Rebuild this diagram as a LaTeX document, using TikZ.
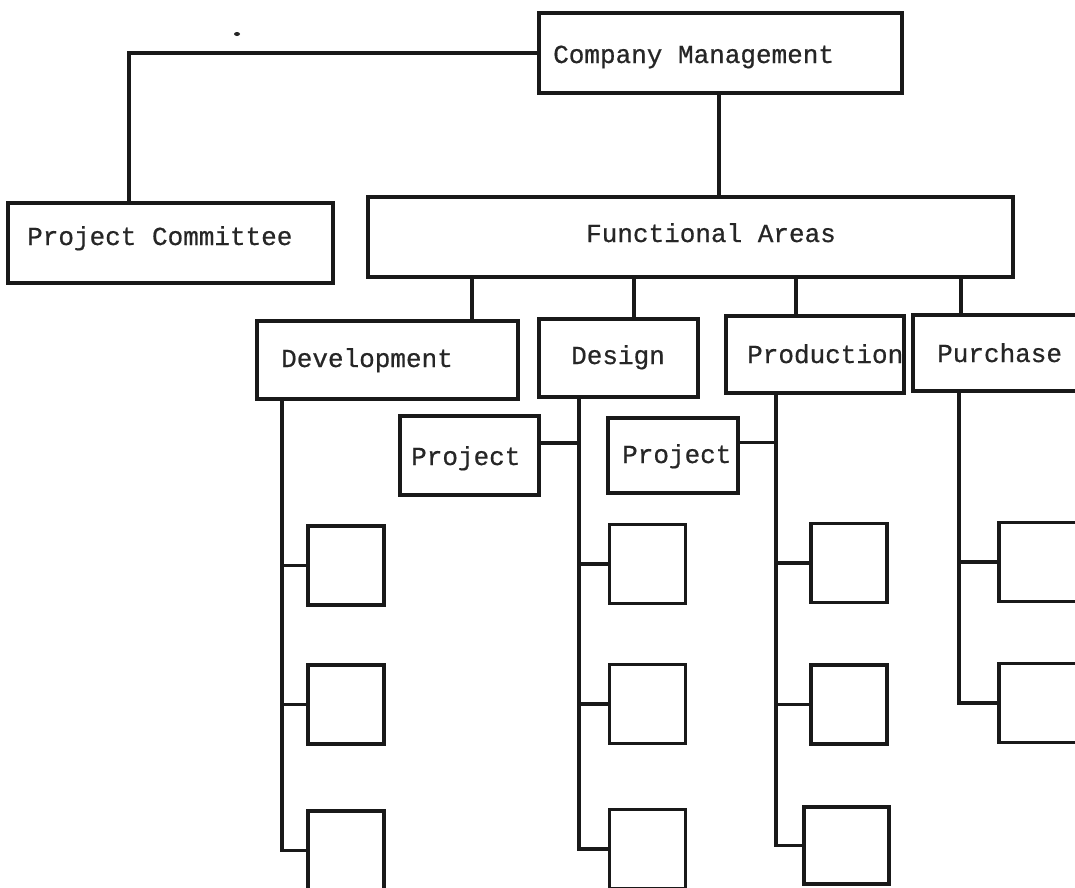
\documentclass[tikz,border=0pt]{standalone}
\usepackage{fontspec}
\setmonofont{Liberation Mono}[FakeBold=0.6]
\begin{document}
\begin{tikzpicture}[x=1pt,y=-1pt,
  box/.style={draw=black!90, line width=3.2pt, inner sep=0pt, rectangle},
  leaf/.style={box, minimum width=76pt, minimum height=79pt},
  lbl/.style={inner sep=0pt, anchor=base west, text=black!85,
              font=\ttfamily\fontsize{26pt}{30pt}\selectfont},
  wire/.style={draw=black!90, line width=3.2pt, line cap=round}]
\useasboundingbox (0,0) rectangle (1075,887);
\clip (0,0) rectangle (1075,887);
\fill[white] (0,0) rectangle (1075,887);

% upper levels
\node[box, minimum width=363pt, minimum height=80pt] (cm)   at (720.5,53)  {};
\node[box, minimum width=325pt, minimum height=80pt] (pc)   at (170.5,243) {};
\node[box, minimum width=645pt, minimum height=80pt] (fa)   at (690.5,237) {};
\node[box, minimum width=261pt, minimum height=78pt] (dev)  at (387.5,360) {};
\node[box, minimum width=159pt, minimum height=78pt] (des)  at (618.5,358) {};
\node[box, minimum width=178pt, minimum height=77pt] (prod) at (815,354.5) {};
\node[box, minimum width=180pt, minimum height=76pt] (pur)  at (1003,353)  {};
\node[box, minimum width=139pt, minimum height=79pt] (prj1) at (469.5,455.5) {};
\node[box, minimum width=130pt, minimum height=75pt] (prj2) at (673,455.5) {};

\node[lbl] at (553,63)  {Company Management};
\node[lbl] at (27,245)  {Project Committee};
\node[lbl] at (586,242) {Functional Areas};
\node[lbl] at (281,367) {Development};
\node[lbl] at (571,364) {Design};
\node[lbl] at (747,363) {Production};
\node[lbl] at (937,362) {Purchase};
\node[lbl] at (411,465) {Project};
\node[lbl] at (622,463) {Project};

% leaf boxes under each functional area
\node[leaf] (dev1) at (346,565.5) {};
\node[leaf] (dev2) at (346,704.5) {};
\node[leaf] (dev3) at (346,850.5) {};
\node[leaf] (des1) at (647.5,564) {};
\node[leaf] (des2) at (647.5,704) {};
\node[leaf] (des3) at (647.5,849) {};
\node[leaf] (prd1) at (849,563) {};
\node[leaf] (prd2) at (849,704.5) {};
\node[leaf, minimum width=85pt, minimum height=77pt] (prd3) at (846.5,845.5) {};
\node[leaf, minimum width=80pt] (pur1) at (1039,562) {};
\node[leaf, minimum width=80pt] (pur2) at (1039,703) {};

% x positions of the vertical wires
\coordinate (xpc)   at (129,0);
\coordinate (xfa)   at (719,0);
\coordinate (xdev)  at (472,0);
\coordinate (xdes)  at (634,0);
\coordinate (xprod) at (796,0);
\coordinate (xpur)  at (961,0);
\coordinate (tdev)  at (282,0);
\coordinate (tdes)  at (579,0);
\coordinate (tprd)  at (776,0);
\coordinate (tpur)  at (959,0);

% management links
\draw[wire] (cm.west) -| (pc.north -| xpc);
\draw[wire] (cm.south -| xfa) -- (fa.north -| xfa);
\draw[wire] (fa.south -| xdev)  -- (dev.north -| xdev);
\draw[wire] (fa.south -| xdes)  -- (des.north -| xdes);
\draw[wire] (fa.south -| xprod) -- (prod.north -| xprod);
\draw[wire] (fa.south -| xpur)  -- (pur.north -| xpur);

% trunks down each column
\draw[wire] (dev.south -| tdev) |- (dev3.west);
\draw[wire] (des.south -| tdes) |- (des3.west);
\draw[wire] (prod.south -| tprd) |- (prd3.west);
\draw[wire] (pur.south -| tpur) |- (pur2.west);

% branches
\draw[wire] (dev1.west) -- (dev1.west -| tdev);
\draw[wire] (dev2.west) -- (dev2.west -| tdev);
\draw[wire] (des1.west) -- (des1.west -| tdes);
\draw[wire] (des2.west) -- (des2.west -| tdes);
\draw[wire] (prd1.west) -- (prd1.west -| tprd);
\draw[wire] (prd2.west) -- (prd2.west -| tprd);
\draw[wire] (pur1.west) -- (pur1.west -| tpur);
\draw[wire] ([yshift=12.5pt]prj1.east) -- ([yshift=12.5pt]prj1.east -| tdes);
\draw[wire] ([yshift=13pt]prj2.east) -- ([yshift=13pt]prj2.east -| tprd);

% stray mark near the top
\fill[black!85] (237,34) ellipse (3pt and 2pt);
\end{tikzpicture}
\end{document}
